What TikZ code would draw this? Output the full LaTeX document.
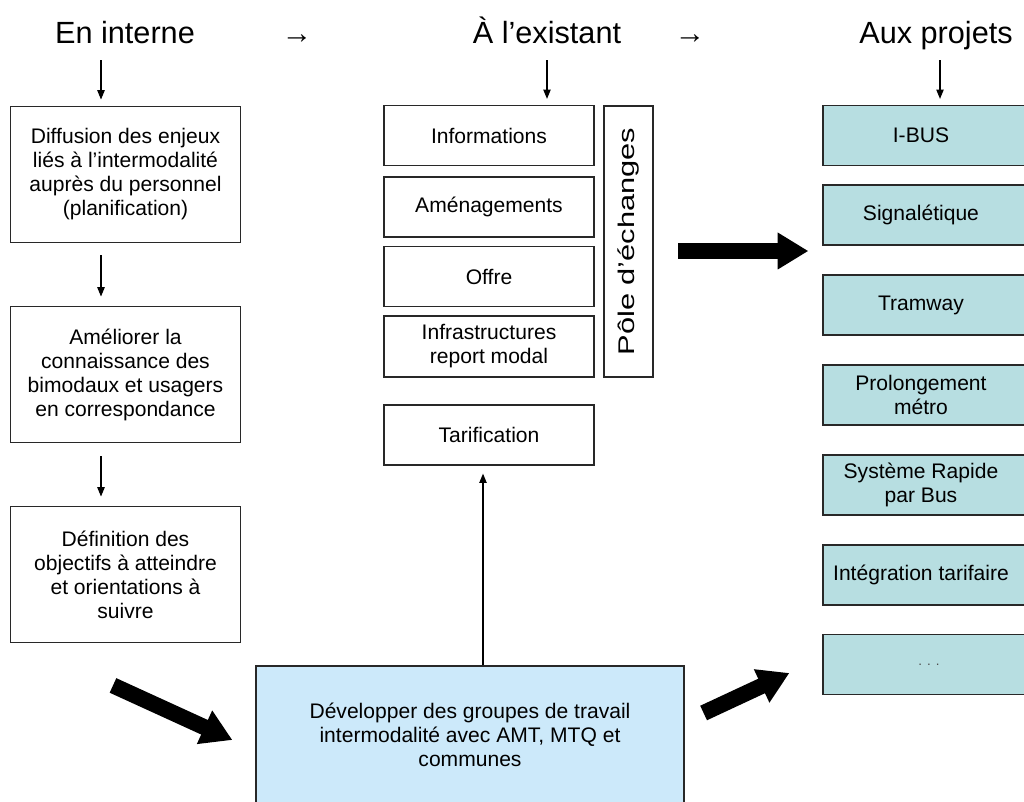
\documentclass[tikz,border=0pt]{standalone}
\usepackage{fontspec}
\usepackage{graphicx}
\setmainfont{Liberation Sans}
\usetikzlibrary{arrows.meta,calc}
\definecolor{rfill}{RGB}{183,222,225}
\definecolor{bfill}{RGB}{204,233,250}
\definecolor{frame}{RGB}{40,40,40}
\tikzset{
  boxtext/.style={font=\fontsize{15.8}{18}\selectfont, align=center},
  lbox/.style={boxtext, draw=frame, line width=0.9pt, fill=white, minimum width=173pt, minimum height=102.5pt, inner sep=0pt},
  mbox/.style={boxtext, draw=frame, line width=0.9pt, fill=white, minimum width=157.5pt, minimum height=45pt, inner sep=0pt},
  rbox/.style={draw=frame, line width=0.9pt, fill=rfill, minimum width=162.75pt, minimum height=45pt, inner sep=0pt},
  rlbl/.style={boxtext, xshift=-7.9pt},
  bbox/.style={boxtext, draw=frame, line width=0.9pt, fill=bfill, minimum width=321pt, minimum height=103.5pt, inner sep=0pt},
  heading/.style={font=\fontsize{23}{27}\selectfont, inner sep=0pt, anchor=base},
  tarrow/.style={line width=0.9pt, -{Triangle[length=7pt,width=5.5pt]}},
  thick arrow/.style={line width=12pt, -{Triangle[length=23pt,width=26pt]}}
}
\begin{document}
\begin{tikzpicture}[x=0.75pt,y=-0.75pt]
\clip (0,0) rectangle (1024,802);
\fill[white] (0,0) rectangle (1024,802);

% headings
\node[heading] (h1) at (125,43.5) {En interne};
\node[heading] (t1) at (297,43.5) {→};
\node[heading] (h2) at (547,43.5) {À l’existant};
\node[heading] (t2) at (690,43.5) {→};
\node[heading] (h3) at (936,43.5) {Aux projets};

% left column
\node[lbox] (b1) at (125.5,174.5) {Diffusion des enjeux\\liés à l'intermodalité\\auprès du personnel\\(planification)};
\node[lbox] (b2) at (125.5,374.5) {Améliorer la\\connaissance des\\bimodaux et usagers\\en correspondance};
\node[lbox] (b3) at (125.5,574.5) {Définition des\\objectifs à atteindre\\et orientations à\\suivre};

% middle column
\node[mbox] (m1) at (489,135.5) {Informations};
\node[mbox] (m2) at (489,207) {Aménagements};
\node[mbox] (m3) at (489,276.5) {Offre};
\node[mbox, minimum height=45.75pt] (m4) at (489,346.5) {Infrastructures\\report modal};
\node[mbox] (m5) at (489,435) {Tarification};
\node[draw=frame, line width=0.9pt, fill=white, minimum width=203.25pt, minimum height=36.75pt, inner sep=0pt, rotate=90,
      font=\fontsize{17}{18}\selectfont] (p) at (628.5,241.5) {\scalebox{1.36}[1]{Pôle d’échanges}};

% right column
\node[rbox, label={[rlbl]center:I-BUS}] (r1) at (931.5,135.5) {};
\node[rbox, label={[rlbl]center:Signalétique}] (r2) at (931.5,215) {};
\node[rbox, label={[rlbl]center:Tramway}] (r3) at (931.5,305) {};
\node[rbox, label={[rlbl]center:{Prolongement\\métro}}] (r4) at (931.5,395) {};
\node[rbox, label={[rlbl]center:{Système Rapide\\par Bus}}] (r5) at (931.5,485) {};
\node[rbox, label={[rlbl]center:Intégration tarifaire}] (r6) at (931.5,575) {};
\node[rbox, label={[rlbl, xshift=6pt, font=\fontsize{10}{12}\selectfont, text=black!70]center:. . .}] (r7) at (931.5,664.5) {};

% bottom box
\node[bbox] (bb) at (470,735) {Développer des groupes de travail\\intermodalité avec AMT, MTQ et\\communes};

% thin arrows
\draw[tarrow] ($(h1.base)+(-24,17)$) -- ($(b1.north)+(-24.5,-6)$);
\draw[tarrow] ($(b1.south)+(-24.5,12)$) -- ($(b2.north)+(-24.5,-9)$);
\draw[tarrow] ($(b2.south)+(-24.5,13)$) -- ($(b3.north)+(-24.5,-9)$);
\draw[tarrow] ($(h2.base)+(0,17)$) -- ($(m1.north)+(58,-6)$);
\draw[tarrow] ($(h3.base)+(4,17)$) -- ($(r1.north)+(8.5,-6)$);
\draw[tarrow] ($(bb.north)+(13,0)$) -- ($(m5.south)+(-6,8)$);

% thick arrows
\draw[thick arrow] ($(p.center)+(49.5,9.5)$) -- ($(r2.west)+(-14,36)$);
\draw[thick arrow] ($(b3.south)+(-12.5,42)$) -- ($(bb.west)+(-23,5)$);
\draw[thick arrow] ($(bb.east)+(19,-22)$) -- ($(r7.west)+(-33,8.5)$);
\end{tikzpicture}
\end{document}
